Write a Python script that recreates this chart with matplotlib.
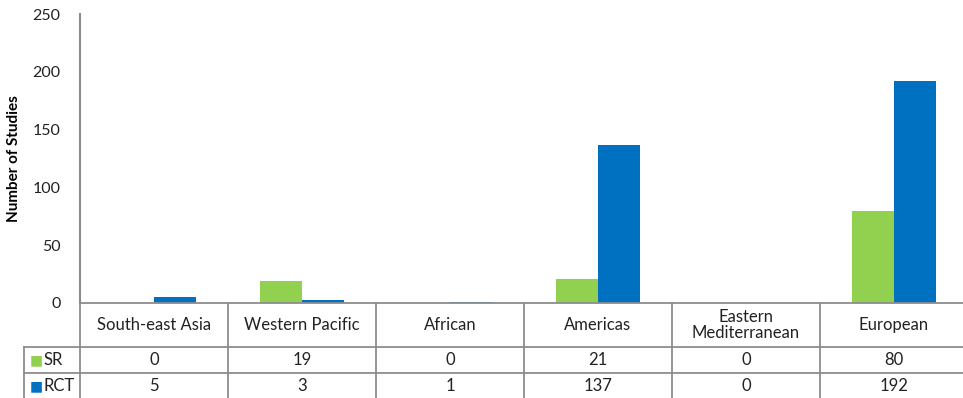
import numpy as np
import matplotlib.pyplot as plt
import matplotlib.transforms as mtransforms

regions = ['South-east Asia', 'Western Pacific', 'African', 'Americas',
           'Eastern\nMediterranean', 'European']
sr = [0, 19, 0, 21, 0, 80]
rct = [5, 3, 1, 137, 0, 192]
series = ['SR', 'RCT']
colors = ['#92D050', '#0070C0']
yticks = [0, 50, 100, 150, 200, 250]

plt.rcParams['font.family'] = ['Lato', 'DejaVu Sans']

W, H = 963, 398
AX_W, AX_H = 888, 289
fig = plt.figure(figsize=(W / 100, H / 100), dpi=100)
# axes in pixels: left 80, right 968, top 14, bottom 303
ax = fig.add_axes([80 / W, 1 - 303 / H, AX_W / W, AX_H / H])

x = np.arange(len(regions))
bw = 0.284
ax.bar(x - bw / 2, sr, bw, color=colors[0])
ax.bar(x + bw / 2, rct, bw, color=colors[1])

ax.set_xlim(-0.5, len(regions) - 0.5)
ax.set_ylim(0, 250)
ax.set_yticks(yticks)
ax.set_xticks([])
ax.tick_params(axis='y', length=0, pad=14, labelsize=11.5, labelcolor='#222222')
for s in ['top', 'right', 'bottom']:
    ax.spines[s].set_visible(False)
ax.spines['left'].set_color('#8c8c8c')
ax.spines['left'].set_linewidth(1.5)
ax.set_ylabel('Number of Studies', fontsize=11, fontweight='bold', labelpad=8)

# ---- data table drawn under the axes (x in data units, y in axes fraction)
trans = mtransforms.blended_transform_factory(ax.transData, ax.transAxes)
line_kw = dict(color='#8c8c8c', lw=1.3, transform=trans, clip_on=False)
n = len(regions)
lab_left = -0.5 - 56 / 148          # row label column, 56 px wide
y_head = -44 / AX_H
y_sr = -70 / AX_H
y_rct = -96 / AX_H

# horizontal lines
ax.plot([-0.5, n - 0.5], [0, 0], **line_kw)
ax.plot([lab_left, n - 0.5], [y_head, y_head], **line_kw)
ax.plot([lab_left, n - 0.5], [y_sr, y_sr], **line_kw)
ax.plot([lab_left, n - 0.5], [y_rct, y_rct], **line_kw)
# vertical lines
for b in np.arange(n + 1) - 0.5:
    ax.plot([b, b], [0, y_rct], **line_kw)
ax.plot([lab_left, lab_left], [y_head, y_rct], **line_kw)

txt_kw = dict(transform=trans, fontsize=12, color='#222222', va='center')
for i, name in enumerate(regions):
    ax.text(i, y_head / 2, name, ha='center', linespacing=1.0, **txt_kw)
    ax.text(i, (y_head + y_sr) / 2, str(sr[i]), ha='center', **txt_kw)
    ax.text(i, (y_sr + y_rct) / 2, str(rct[i]), ha='center', **txt_kw)

for j, (lab, col) in enumerate(zip(series, colors)):
    yc = (y_head - 26 * j / AX_H) - 13 / AX_H
    ax.text(lab_left + 0.04, yc, '\u25A0', ha='left', transform=trans,
            fontsize=10, color=col, va='center', family='DejaVu Sans')
    ax.text(lab_left + 0.135, yc, lab, ha='left', **txt_kw)

fig.savefig('out.png', dpi=100)
